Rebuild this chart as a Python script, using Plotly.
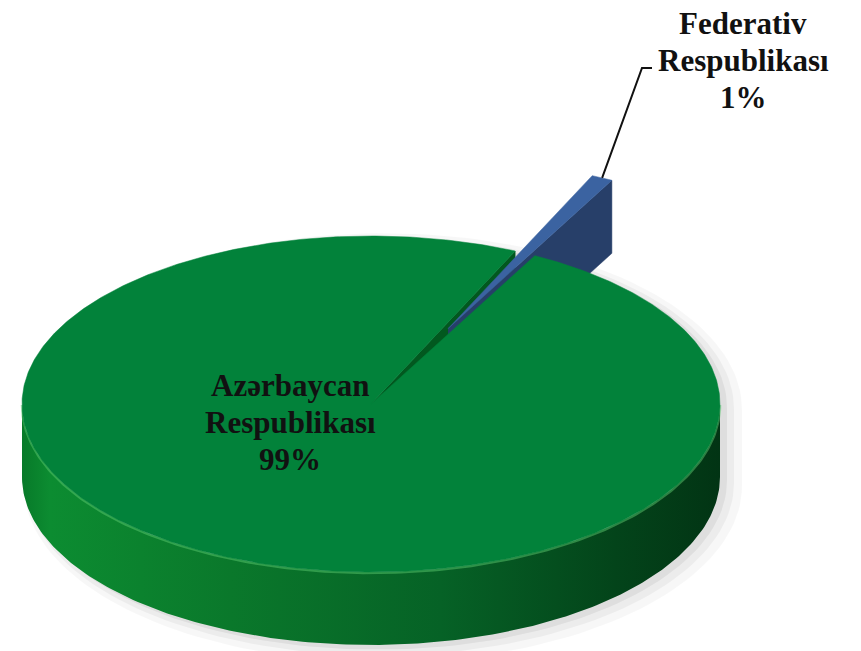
import numpy as np
import plotly.graph_objects as go

# ---- data ----
categories = ["Azərbaycan Respublikası", "Federativ Respublikası"]
values = [99, 1]
label_lines = [["Azərbaycan", "Respublikası"], ["Federativ", "Respublikası"]]

# ---- geometry / style (layout constants, not data) ----
W, H = 861, 651
CX, CY = 371, 404          # centre of the top face
RX, RY = 349, 168          # radii of the top face ellipse
DEPTH = 73                 # thickness of the pie
START = 62.0               # math degrees; slices run clockwise from here
EXPLODE = [0.0, 0.5]

top_colors = ["#02823a", "#3b63a1"]
cut_colors = ["#02581f", "#273f69"]
wall_scales = [
    [[0, "#077a29"], [0.04, "#0c8c31"], [0.3, "#0a782b"], [0.6, "#066226"],
     [0.85, "#03441a"], [1, "#023414"]],
    [[0, "#2c4a7a"], [1, "#1c2f50"]],
]
label_pos = [(290, 422), (743, 60)]
LINE_GAP = 37
leader_elbow = [(642, 68), (652, 68)]


def pts(thetas, ox=0.0, oy=0.0, dz=0.0):
    t = np.radians(np.asarray(thetas, dtype=float))
    return CX + ox + RX * np.cos(t), CY + oy - RY * np.sin(t) + dz


fig = go.Figure()

# slice angles
total = float(sum(values))
slices = []
a0 = START
for i, v in enumerate(values):
    a1 = a0 - 360.0 * v / total
    mid = 0.5 * (a0 + a1)
    ox = EXPLODE[i] * RX * np.cos(np.radians(mid))
    oy = -EXPLODE[i] * RY * np.sin(np.radians(mid))
    slices.append(dict(a0=a0, a1=a1, mid=mid, ox=ox, oy=oy))
    a0 = a1

# soft shadow (lower right)
for grow, alpha, off in [(10, 0.03, 12), (5, 0.045, 9), (1, 0.06, 6)]:
    th_top = np.linspace(0, 180, 90)
    th_bot = np.linspace(180, 360, 90)
    xt, yt = pts(th_top)
    xb, yb = pts(th_bot, dz=DEPTH)
    xs = np.concatenate([xt, xb]) + off
    ys = np.concatenate([yt, yb]) + off * 0.6
    cxm, cym = CX + off, CY + DEPTH / 2 + off * 0.6
    xs = cxm + (xs - cxm) * (1 + grow / RX)
    ys = cym + (ys - cym) * (1 + grow / (RY + DEPTH / 2))
    fig.add_trace(go.Scatter(x=xs, y=ys, fill="toself", mode="lines",
                             line=dict(width=0), fillcolor=f"rgba(0,0,0,{alpha})",
                             hoverinfo="skip"))

# phase A: visible radial cut faces
for i, s in enumerate(slices):
    for edge, visible in [(s["a1"], np.cos(np.radians(s["a1"])) > 0),
                          (s["a0"], np.cos(np.radians(s["a0"])) < 0)]:
        if not visible:
            continue
        ex, ey = pts([edge], s["ox"], s["oy"])
        tx, ty = CX + s["ox"], CY + s["oy"]
        xs = [tx, ex[0], ex[0], tx]
        ys = [ty, ey[0], ey[0] + DEPTH, ty + DEPTH]
        fig.add_trace(go.Scatter(x=xs, y=ys, fill="toself", mode="lines",
                                 line=dict(width=0.5, color=cut_colors[i]),
                                 fillcolor=cut_colors[i], hoverinfo="skip"))

# phase B: outer walls (front half only)
for i, s in enumerate(slices):
    for k in range(-2, 2):
        lo = max(s["a1"], -180 + 360 * k)
        hi = min(s["a0"], 360 * k)
        if lo >= hi:
            continue
        th = np.linspace(lo, hi, 200)
        xt, yt = pts(th, s["ox"], s["oy"])
        xb, yb = pts(th[::-1], s["ox"], s["oy"], DEPTH)
        fig.add_trace(go.Scatter(
            x=np.concatenate([xt, xb]), y=np.concatenate([yt, yb]),
            fill="toself", mode="lines", line=dict(width=0),
            fillgradient=dict(type="horizontal", colorscale=wall_scales[i]),
            hoverinfo="skip"))
        # light rim highlight along the top edge of the wall
        fig.add_trace(go.Scatter(x=xt, y=yt + 1, mode="lines",
                                 line=dict(color="rgba(90,200,110,0.5)", width=2.5),
                                 hoverinfo="skip"))

# phase C/D: top faces (exploded ones first, then the rest on top)
order = sorted(range(len(slices)), key=lambda j: -EXPLODE[j])
for i in order:
    s = slices[i]
    th = np.linspace(s["a1"], s["a0"], max(3, int((s["a0"] - s["a1"]) * 2)))
    xa, ya = pts(th, s["ox"], s["oy"])
    tx, ty = CX + s["ox"], CY + s["oy"]
    fig.add_trace(go.Scatter(
        x=np.concatenate([[tx], xa, [tx]]), y=np.concatenate([[ty], ya, [ty]]),
        fill="toself", mode="lines", line=dict(width=0.5, color=top_colors[i]),
        fillcolor=top_colors[i], hoverinfo="skip"))

# leader line for the small slice
s = slices[1]
lx, ly = pts([s["mid"]], s["ox"], s["oy"])
fig.add_trace(go.Scatter(
    x=[lx[0], leader_elbow[0][0], leader_elbow[1][0]],
    y=[ly[0], leader_elbow[0][1], leader_elbow[1][1]],
    mode="lines", line=dict(color="#111111", width=2), hoverinfo="skip"))

# labels (one annotation per line for exact line spacing)
for i, (name_lines, v) in enumerate(zip(label_lines, values)):
    lines = name_lines + [f"{v}%"]
    n = len(lines)
    for j, ln in enumerate(lines):
        fig.add_annotation(x=label_pos[i][0],
                           y=label_pos[i][1] + (j - (n - 1) / 2) * LINE_GAP,
                           text=f"<b>{ln}</b>", showarrow=False,
                           xanchor="center", yanchor="middle",
                           font=dict(family="Liberation Serif", size=31, color="#111111"))

fig.update_layout(
    width=W, height=H, margin=dict(l=0, r=0, t=0, b=0),
    paper_bgcolor="white", plot_bgcolor="white", showlegend=False,
    xaxis=dict(range=[0, W], visible=False, fixedrange=True),
    yaxis=dict(range=[H, 0], visible=False, fixedrange=True),
)
fig.write_html("out.html")
